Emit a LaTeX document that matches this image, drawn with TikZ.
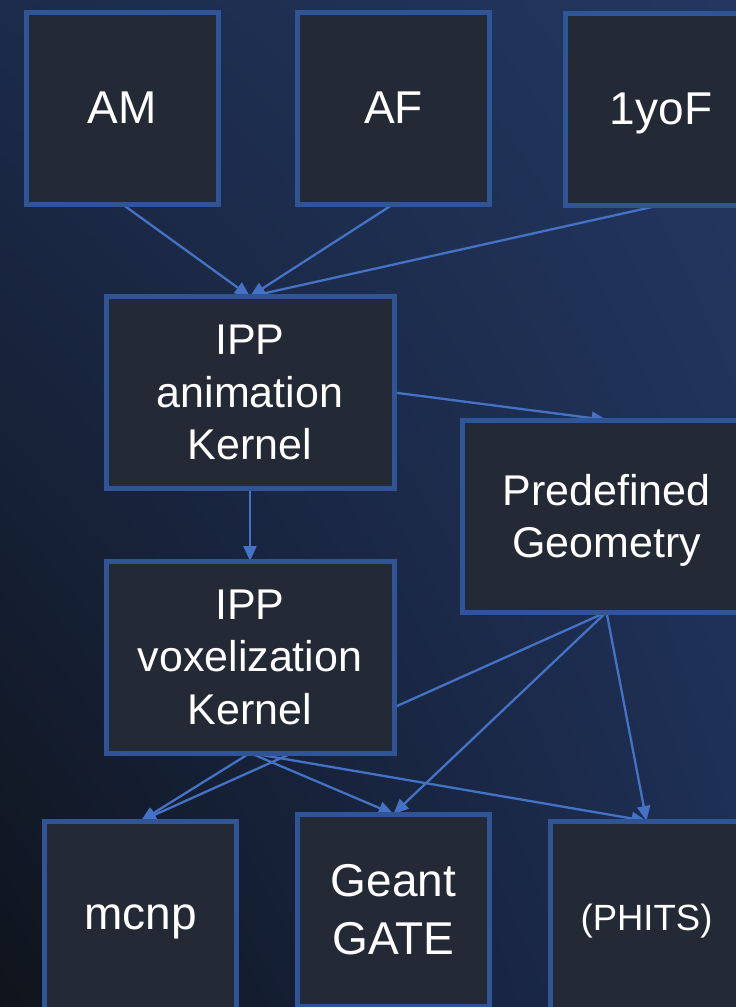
\documentclass[tikz,border=0pt]{standalone}
\usepackage{fontspec}
\setmainfont{Liberation Sans}
\usetikzlibrary{arrows.meta,shadings}
\definecolor{boxfill}{HTML}{232A35}
\definecolor{boxline}{HTML}{2F5597}
\definecolor{linkblue}{HTML}{4472C4}
\definecolor{bgtl}{HTML}{1C2B4B}
\definecolor{bgtr}{HTML}{233760}
\definecolor{bgbr}{HTML}{1D2E54}
\definecolor{bgbl}{HTML}{0F141C}
\pgfdeclarelayer{back}
\pgfdeclarelayer{links}
\pgfsetlayers{back,links,main}
\begin{document}
\begin{tikzpicture}[x=1pt,y=-1pt,
        box/.style={draw=boxline,line width=5pt,fill=boxfill,text=white,outer sep=0pt,minimum width=192pt,minimum height=192pt,align=center,font=\fontsize{46}{58}\selectfont},
        widebox/.style={box,minimum width=288pt,font=\fontsize{43}{52.5}\selectfont},
        link/.style={linkblue,line width=2.3pt,-{Triangle[length=15pt,width=13pt]}}]
        \useasboundingbox (0,0) rectangle (736,1007);
        \begin{pgfonlayer}{back}
        \shade[upper left=bgtl,upper right=bgtr,lower right=bgbr,lower left=bgbl] (0,0) rectangle (736,1007);
        \end{pgfonlayer}
        \node[box,text depth=0pt] (am) at (122,108) {AM};
        \node[box,text depth=0pt] (af) at (393.5,108) {AF};
        \node[box,text depth=0pt] (yof) at (661,109) {1yoF};
        \node[widebox] (anim) at (250,392.5) {IPP\\animation\\Kernel};
        \node[widebox,text depth=0pt] (pre) at (606.5,516) {Predefined\\Geometry};
        \node[widebox] (vox) at (250,657) {IPP\\voxelization\\Kernel};
        \node[box,text depth=0pt] (mcnp) at (140.8,917) {mcnp};
        \node[box] (geant) at (393.5,910) {Geant\\GATE};
        \node[box,text depth=0pt,font=\fontsize{36.5}{44}\selectfont] (phits) at (646.5,917) {(PHITS)};
        \begin{pgfonlayer}{links}
        \draw[link] (am.south) -- (anim.north);
        \draw[link] (af.south) -- (anim.north);
        \draw[link] (yof.south) -- (anim.north);
        \draw[link] (anim.east) -- (pre.north);
        \draw[link] (anim.south) -- (vox.north);
        \foreach \code in {mcnp,geant,phits}{
                \draw[link] (vox.south) -- (\code.north);
                \draw[link] (pre.south) -- (\code.north);
        }
        \end{pgfonlayer}
\end{tikzpicture}
\end{document}
